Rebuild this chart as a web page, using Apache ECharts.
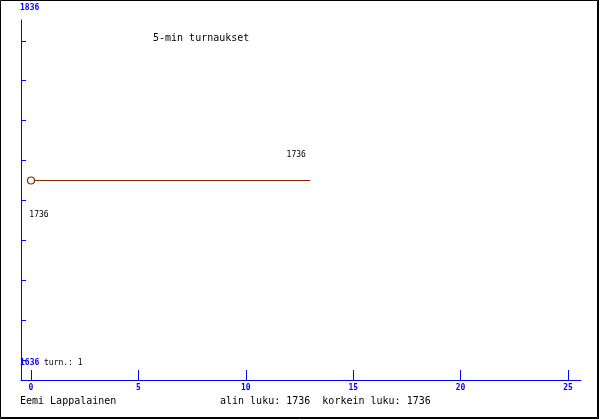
<!DOCTYPE html>
<html>
<head>
<meta charset="utf-8">
<script src="https://cdn.jsdelivr.net/npm/echarts@6/dist/echarts.min.js"></script>
<style>
html,body{margin:0;padding:0;background:#fff;}
#c{width:600px;height:420px;}
</style>
</head>
<body>
<div id="c"></div>
<script>
// Data
var xValues = [0, 13];
var yValues = [1736, 1736];
var xTickValues = [0, 5, 10, 15, 20, 25];
var yTickValues = [1646, 1666, 1686, 1706, 1726, 1746, 1766, 1786, 1806];
var yEndLabels = ['1836', '1636'];
var titleText = '5-min turnaukset';
var playerName = 'Eemi Lappalainen';
var gamesText = 'turn.: 1';
var statsText = 'alin luku: 1736  korkein luku: 1736';

var mono = '"DejaVu Sans Mono", "Liberation Mono", monospace';
var blue = '#0000ff';
var lineColor = '#8b2500';

var seriesData = xValues.map(function (x, i) {
  var item = { value: [x, yValues[i]] };
  if (i === 0) {
    item.label = { show: true, position: 'inside', offset: [8, 34] };
  } else if (i === xValues.length - 1) {
    item.symbolSize = 1;
    item.itemStyle = { color: 'rgba(0,0,0,0)', borderColor: 'rgba(0,0,0,0)' };
    item.label = { show: true, position: 'inside', offset: [-14, -26] };
  } else {
    item.symbolSize = 0;
  }
  return item;
});

var chart = echarts.init(document.getElementById('c'), null, { renderer: 'canvas' });
chart.setOption({
  animation: false,
  backgroundColor: '#fff',
  title: {
    text: titleText,
    left: 148,
    top: 28,
    textStyle: { fontFamily: mono, fontSize: 10, fontWeight: 'normal', color: '#000' }
  },
  grid: { left: 21, right: 19, top: 20, bottom: 40, containLabel: false, outerBoundsMode: 'none' },
  xAxis: {
    type: 'value',
    min: -0.4655,
    max: 25.605,
    splitLine: { show: false },
    axisLine: { show: true, onZero: false, lineStyle: { color: blue, width: 1 } },
    axisTick: { show: true, inside: true, length: 10, customValues: xTickValues, lineStyle: { color: blue, width: 1 } },
    axisLabel: {
      show: true, customValues: xTickValues, margin: 4,
      color: blue, fontFamily: mono, fontSize: 8, fontWeight: 'bold'
    }
  },
  yAxis: {
    type: 'value',
    min: 1636,
    max: 1816.45,
    splitLine: { show: false },
    axisLine: { show: true, onZero: false, lineStyle: { color: blue, width: 1 } },
    axisTick: { show: true, inside: true, length: 5, customValues: yTickValues, lineStyle: { color: blue, width: 1 } },
    axisLabel: { show: false }
  },
  series: [{
    type: 'line',
    data: seriesData,
    symbol: 'circle',
    symbolSize: 7,
    showSymbol: true,
    lineStyle: { color: lineColor, width: 1.2 },
    itemStyle: { color: '#fff', borderColor: lineColor, borderWidth: 1.2 },
    label: { color: '#000', fontFamily: mono, fontSize: 8, formatter: function (p) { return String(p.value[1]); } },
    emphasis: { disabled: true }
  }],
  graphic: [
    { type: 'rect', shape: { x: 0.5, y: 0.5, width: 597, height: 417 }, style: { fill: null, stroke: '#000', lineWidth: 1 }, z: 100 },
    { type: 'line', shape: { x1: 598.5, y1: 0, x2: 598.5, y2: 419 }, style: { stroke: '#000', lineWidth: 1 }, z: 100 },
    { type: 'line', shape: { x1: 0, y1: 418.5, x2: 599, y2: 418.5 }, style: { stroke: '#000', lineWidth: 1 }, z: 100 },
    { type: 'text', left: 20, top: 4, style: { text: yEndLabels[0], fill: blue, font: 'bold 8px ' + mono } },
    { type: 'text', left: 20, top: 359, style: { text: yEndLabels[1], fill: blue, font: 'bold 8px ' + mono } },
    { type: 'text', left: 44, top: 359, style: { text: gamesText, fill: '#000', font: '8px ' + mono } },
    { type: 'text', left: 20, top: 396, style: { text: playerName, fill: '#000', font: '10px ' + mono } },
    { type: 'text', left: 220, top: 396, style: { text: statsText, fill: '#000', font: '10px ' + mono } }
  ]
});
</script>
</body>
</html>
